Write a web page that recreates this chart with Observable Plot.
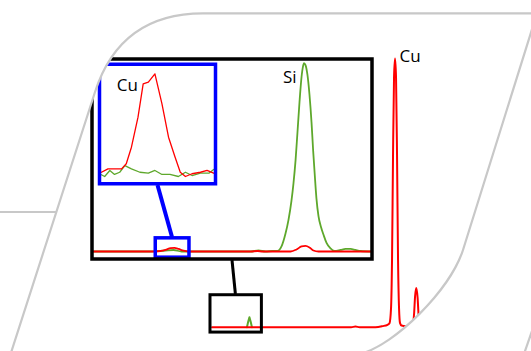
<!DOCTYPE html>
<html><head><meta charset="utf-8">
<script src="https://cdn.jsdelivr.net/npm/d3@7"></script>
<script src="https://cdn.jsdelivr.net/npm/@observablehq/plot@0.6"></script>
<style>
html,body{margin:0;padding:0;background:#fff;}
#wrap{position:relative;width:531px;height:351px;overflow:hidden;background:#fff;}
#wrap svg{position:absolute;left:0;top:0;}
</style></head><body><div id="wrap"></div>
<script>
// ---- Full spectrum (keV, counts) ----
const outerE   = [0.75, 4.28, 6.30, 6.47, 6.64, 7.27, 7.55, 7.75, 7.83, 7.89, 7.93, 7.97, 8.01, 8.05, 8.09, 8.13, 8.17, 8.21, 8.25, 8.31, 8.47, 8.67, 8.75, 8.81, 8.85, 8.90, 8.95, 8.99, 9.03, 9.07];
const outerRed = [0, 0, 0, 25, 0, 0, 40, 90, 150, 700, 2500, 6400, 9300, 10000, 9300, 6400, 2500, 700, 150, 60, 40, 50, 70, 500, 1150, 1460, 1100, 450, 120, 60];
const outerSiE = [2.14, 2.19, 2.24, 2.29, 2.34];
const outerSi  = [0, 200, 370, 200, 0];
const zoomRange  = [0.686, 2.737];   // keV window shown in the black panel
const zoomCounts = [-200, 1190];
const outerLabel = ["Cu"], outerLabelE = [8.05], outerLabelC = [10000];

// ---- Zoomed panel (keV, counts) ----
const panelGreenE = [0.686, 1.115, 1.224, 1.283, 1.342, 1.847, 1.906, 1.957, 2.008, 2.045, 2.074, 2.103, 2.125, 2.147, 2.162, 2.177, 2.191, 2.206, 2.221, 2.232, 2.239, 2.250, 2.264, 2.279, 2.294, 2.306, 2.318, 2.330, 2.345, 2.364, 2.382, 2.404, 2.433, 2.462, 2.506, 2.543, 2.580, 2.616, 2.653, 2.737];
const panelGreenC = [0, 0, 2, 3, 0, 0, 2, 0, 1, 1, 10, 35, 62, 100, 135, 180, 235, 295, 345, 366, 372, 368, 349, 310, 255, 199, 150, 105, 70, 48, 33, 17, 6, 1, 3, 5, 5, 3, 1, 0];
const panelRedE = [0.686, 1.115, 1.188, 1.224, 1.261, 1.290, 1.320, 1.356, 1.393, 1.847, 1.898, 1.935, 2.141, 2.184, 2.221, 2.250, 2.279, 2.308, 2.345, 2.737];
const panelRedC = [0, 0, 1, 3, 6.5, 7, 5, 1.5, 0, 0, 1, 0, 0, 4, 10, 11, 8, 2, 0, 0];
const panelYDomain = [-14.8, 380];
const insetRange  = [1.153, 1.400];  // keV window shown in the blue inset
const insetCounts = [-12.2, 26];
const panelLabel = ["Si"], panelLabelE = [2.239], panelLabelC = [372];

// ---- Inset (keV, counts) ----
const insetRedE = [1.153, 1.171, 1.189, 1.200, 1.210, 1.221, 1.235, 1.246, 1.257, 1.271, 1.286, 1.300, 1.314, 1.325, 1.336, 1.350, 1.368, 1.382, 1.396];
const insetRedC = [0.24, 0.56, 0.56, 0.56, 0.93, 2.14, 4.33, 6.77, 6.89, 7.50, 5.31, 2.87, 1.41, 0.31, 0, 0.20, 0.31, 0.44, 0.24];
const insetGreenE = [1.153, 1.164, 1.175, 1.185, 1.196, 1.207, 1.221, 1.239, 1.257, 1.271, 1.286, 1.303, 1.321, 1.336, 1.350, 1.368, 1.386, 1.396];
const insetGreenC = [0.20, 0, 0.44, 0.15, 0.31, 0.80, 0.56, 0.31, 0.24, 0.44, 0.15, 0.15, 0, 0.31, 0.07, 0.24, 0.24, 0.51];
const insetYDomain = [-0.53, 8.2];
const insetLabel = ["Cu"], insetLabelE = [1.271], insetLabelC = [7.5];

const RED = "#ff0000", GREEN = "#5ea82c", BLUE = "#0000ff", FONT = "Open Sans";
const tbl = (xs, ys) => xs.map((x, i) => ({x, y: ys[i]}));
const lbl = (t, xs, ys) => t.map((s, i) => ({t: s, x: xs[i], y: ys[i]}));
const base = {width: 531, height: 351, style: {background: "transparent", overflow: "visible"}};
const wrap = document.getElementById("wrap");

// Outer spectrum
wrap.appendChild(Plot.plot({...base,
  marginLeft: 192.8, marginRight: 87.6, marginTop: 58, marginBottom: 24.3,
  x: {domain: [0, 10], axis: null}, y: {domain: [0, 10000], axis: null},
  marks: [
    Plot.line(tbl(outerSiE, outerSi), {x: "x", y: "y", stroke: GREEN, strokeWidth: 2}),
    Plot.line(tbl(outerE, outerRed), {x: "x", y: "y", stroke: RED, strokeWidth: 2, curve: "monotone-x"}),
    Plot.rect([{x1: zoomRange[0], x2: zoomRange[1], y1: zoomCounts[0], y2: zoomCounts[1]}],
      {x1: "x1", x2: "x2", y1: "y1", y2: "y2", fill: "none", stroke: "black", strokeWidth: 3}),
    Plot.text(lbl(outerLabel, outerLabelE, outerLabelC), {x: "x", y: "y", text: "t", textAnchor: "start", dx: 4.5, dy: -1.5, fontSize: 17, fontFamily: FONT, fill: "black"})
  ]
}));

// Zoomed panel
wrap.appendChild(Plot.plot({...base,
  marginLeft: 91.5, marginRight: 159.5, marginTop: 58.5, marginBottom: 92.5,
  x: {domain: zoomRange, axis: null}, y: {domain: panelYDomain, axis: null},
  marks: [
    Plot.frame({fill: "white", stroke: "none"}),
    Plot.line(tbl(panelGreenE, panelGreenC), {x: "x", y: "y", stroke: GREEN, strokeWidth: 1.8, curve: "monotone-x"}),
    Plot.line(tbl(panelRedE, panelRedC), {x: "x", y: "y", stroke: RED, strokeWidth: 1.8, curve: "monotone-x"}),
    Plot.rect([{x1: insetRange[0], x2: insetRange[1], y1: insetCounts[0], y2: insetCounts[1]}],
      {x1: "x1", x2: "x2", y1: "y1", y2: "y2", fill: "none", stroke: BLUE, strokeWidth: 3.5}),
    Plot.text(lbl(panelLabel, panelLabelE, panelLabelC), {x: "x", y: "y", text: "t", textAnchor: "end", dx: -7.5, dy: 14, fontSize: 17, fontFamily: FONT, fill: "black"}),
    Plot.frame({stroke: "black", strokeWidth: 3.5})
  ]
}));

// Inset
wrap.appendChild(Plot.plot({...base,
  marginLeft: 99, marginRight: 316, marginTop: 63.75, marginBottom: 167.75,
  x: {domain: insetRange, axis: null}, y: {domain: insetYDomain, axis: null},
  marks: [
    Plot.frame({fill: "white", stroke: "none"}),
    Plot.line(tbl(insetGreenE, insetGreenC), {x: "x", y: "y", stroke: GREEN, strokeWidth: 1.3}),
    Plot.line(tbl(insetRedE, insetRedC), {x: "x", y: "y", stroke: RED, strokeWidth: 1.3}),
    Plot.text(lbl(insetLabel, insetLabelE, insetLabelC), {x: "x", y: "y", text: "t", textAnchor: "end", dx: -17, dy: 12, fontSize: 17, fontFamily: FONT, fill: "black"}),
    Plot.frame({stroke: BLUE, strokeWidth: 3.5})
  ]
}));

// Decorative overlay: connectors, rounded parallelogram mask and grey outline
const ns = "http://www.w3.org/2000/svg";
const ov = document.createElementNS(ns, "svg");
ov.setAttribute("width", 531); ov.setAttribute("height", 351);
ov.innerHTML = `
  <line x1="232" y1="260" x2="235.4" y2="294" stroke="black" stroke-width="3"/>
  <line x1="157.5" y1="185" x2="172" y2="237" stroke="${BLUE}" stroke-width="4"/>
  <path fill="white" fill-rule="evenodd" d="M-5,-5H540V360H-5Z M10.6,354 L95,92 Q120.3,13.3 203,13.3 L537,13.3 L463,250 C450,290 395,345 360,354 Z"/>
  <path fill="none" stroke="#c8c8c8" stroke-width="2.2" d="M10.6,354 L95,92 Q120.3,13.3 203,13.3 L537,13.3 L463,250 C450,290 395,345 360,354"/>
  <line x1="0" y1="212" x2="56.4" y2="212" stroke="#c8c8c8" stroke-width="2.2"/>
  <line x1="533" y1="328" x2="524" y2="354" stroke="#c8c8c8" stroke-width="2.2"/>`;
wrap.appendChild(ov);
</script></body></html>
